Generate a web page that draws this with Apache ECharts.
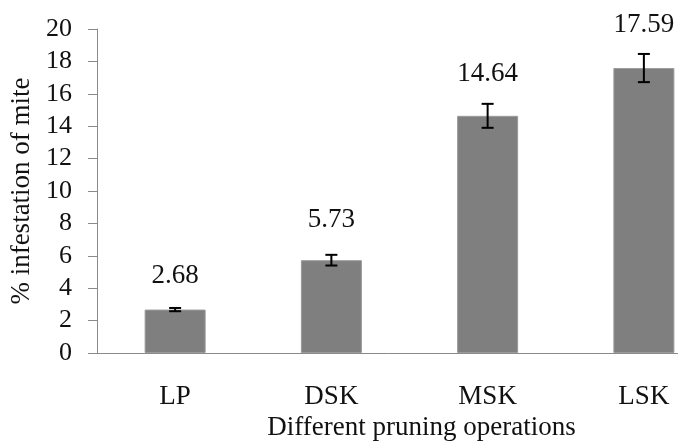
<!DOCTYPE html>
<html>
<head>
<meta charset="utf-8">
<script src="https://cdn.jsdelivr.net/npm/echarts@6/dist/echarts.min.js"></script>
<style>
html,body{margin:0;padding:0;background:#fff;}
#chart{width:678px;height:444px;}
</style>
</head>
<body>
<div id="chart"></div>
<script>
const categories = ['LP', 'DSK', 'MSK', 'LSK'];
const values = [2.68, 5.73, 14.64, 17.59];
const errors = [0.1, 0.33, 0.74, 0.87];
const yTicks = [0, 2, 4, 6, 8, 10, 12, 14, 16, 18, 20];

// label offsets (style only)
const LABEL_DIST = [20, 27, 28, 30];
const FONT = '"Liberation Serif", "Times New Roman", serif';
const chart = echarts.init(document.getElementById('chart'));

const barData = values.map((v, i) => ({ value: v, label: { distance: LABEL_DIST[i] } }));
const errData = values.map((v, i) => [i, v - errors[i], v + errors[i]]);

chart.setOption({
  backgroundColor: '#ffffff',
  animation: false,
  grid: { left: 97, top: 29, right: -44, bottom: 91, containLabel: false, outerBoundsMode: 'none' },
  xAxis: {
    type: 'category',
    data: categories,
    axisLine: { lineStyle: { color: '#8a8a8a', width: 1 } },
    axisTick: { show: false },
    axisLabel: { color: '#111', fontFamily: FONT, fontSize: 27, margin: 30 },
    name: 'Different pruning operations',
    nameLocation: 'middle',
    nameGap: 58,
    nameTextStyle: { color: '#111', fontFamily: FONT, fontSize: 27, verticalAlign: 'top', padding: [0, 0, 0, 24] }
  },
  yAxis: {
    type: 'value',
    min: yTicks[0],
    max: yTicks[yTicks.length - 1],
    interval: yTicks[1] - yTicks[0],
    splitLine: { show: false },
    axisLine: { show: true, lineStyle: { color: '#8a8a8a', width: 1 } },
    axisTick: { show: true, inside: false, length: 9, lineStyle: { color: '#8a8a8a' } },
    axisLabel: { color: '#111', fontFamily: FONT, fontSize: 26, margin: 25 },
    name: '% infestation of mite',
    nameLocation: 'middle',
    nameGap: 60,
    nameRotate: 90,
    nameTextStyle: { color: '#111', fontFamily: FONT, fontSize: 27 }
  },
  series: [
    {
      type: 'bar',
      data: barData,
      barWidth: 61,
      itemStyle: { color: '#7f7f7f', borderColor: '#9a9a9a', borderWidth: 1 },
      label: {
        show: true,
        position: 'top',
        distance: 27,
        color: '#111',
        fontFamily: FONT,
        fontSize: 27
      },
      z: 2
    },
    {
      type: 'custom',
      data: errData,
      z: 3,
      renderItem: function (params, api) {
        const x = api.value(0);
        const lo = api.coord([x, api.value(1)]);
        const hi = api.coord([x, api.value(2)]);
        const hw = 6;
        const style = { stroke: '#000', lineWidth: 2 };
        return {
          type: 'group',
          children: [
            { type: 'line', shape: { x1: lo[0], y1: lo[1], x2: hi[0], y2: hi[1] }, style: style },
            { type: 'line', shape: { x1: lo[0] - hw, y1: lo[1], x2: lo[0] + hw, y2: lo[1] }, style: style },
            { type: 'line', shape: { x1: hi[0] - hw, y1: hi[1], x2: hi[0] + hw, y2: hi[1] }, style: style }
          ]
        };
      }
    }
  ]
});
</script>
</body>
</html>
